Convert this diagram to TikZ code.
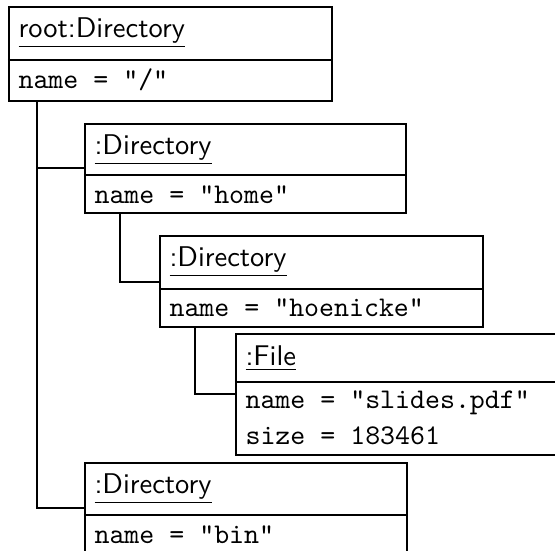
\documentclass[tikz,border=0pt]{standalone}
\usetikzlibrary{calc}
\def\u{0.3509pt}
\tikzset{
  objbox/.style={draw, line width=0.55pt, inner sep=0pt, anchor=north west},
  objhead/.style={inner sep=0pt, anchor=north west},
  objname/.style={anchor=base west, inner sep=0pt, font=\sffamily},
  objattr/.style={anchor=base west, inner sep=0pt, font=\ttfamily},
  divider/.style={draw, line width=0.55pt},
  link/.style={draw, line width=0.5pt},
}
\begin{document}
\begin{tikzpicture}[x=\u, y=-\u]
\useasboundingbox (0,0) rectangle (555,551);
\clip (0,0) rectangle (555,551);

% root directory
\node[objbox, minimum width={323*\u}, minimum height={94*\u}] (root) at (8,6) {};
\node[objhead, minimum width={323*\u}, minimum height={53*\u}] (rootH) at (root.north west) {};
\draw[divider] (rootH.south west) -- (rootH.south east);
\node[objname] (rootT) at ($(rootH.north west)+(10,31)$) {\underline{root:Directory}};
\node[objattr] (rootV) at ($(rootH.south west)+(10,28)$) {name = "/"};

% home
\node[objbox, minimum width={321*\u}, minimum height={89*\u}] (home) at (84,123) {};
\node[objhead, minimum width={321*\u}, minimum height={51*\u}] (homeH) at (home.north west) {};
\draw[divider] (homeH.south west) -- (homeH.south east);
\node[objname] (homeT) at ($(homeH.north west)+(10,31)$) {\underline{:Directory}};
\node[objattr] (homeV) at ($(homeH.south west)+(10,28)$) {name = "home"};

% hoenicke
\node[objbox, minimum width={323*\u}, minimum height={91*\u}] (hoen) at (159,235) {};
\node[objhead, minimum width={323*\u}, minimum height={53*\u}] (hoenH) at (hoen.north west) {};
\draw[divider] (hoenH.south west) -- (hoenH.south east);
\node[objname] (hoenT) at ($(hoenH.north west)+(10,31)$) {\underline{:Directory}};
\node[objattr] (hoenV) at ($(hoenH.south west)+(10,27)$) {name = "hoenicke"};

% slides file
\node[objbox, minimum width={340*\u}, minimum height={121*\u}] (file) at (235,333) {};
\node[objhead, minimum width={340*\u}, minimum height={48*\u}] (fileH) at (file.north west) {};
\draw[divider] (fileH.south west) -- (fileH.south east);
\node[objname] (fileT) at ($(fileH.north west)+(10,32)$) {\underline{:File}};
\node[objattr] (fileV) at ($(fileH.south west)+(10,26)$) {name = "slides.pdf"};
\node[objattr] (fileS) at ($(fileH.south west)+(10,62)$) {size = 183461};

% bin
\node[objbox, minimum width={322*\u}, minimum height={112*\u}] (bin) at (84,462) {};
\node[objhead, minimum width={322*\u}, minimum height={52*\u}] (binH) at (bin.north west) {};
\draw[divider] (binH.south west) -- (binH.south east);
\node[objname] (binT) at ($(binH.north west)+(10,31)$) {\underline{:Directory}};
\node[objattr] (binV) at ($(binH.south west)+(10,28)$) {name = "bin"};

% containment links
\coordinate (r0) at ($(root.south west)+(29,0)$);
\coordinate (h0) at ($(home.south west)+(36,0)$);
\coordinate (o0) at ($(hoen.south west)+(36,0)$);
\draw[link] (r0) |- ($(homeH.south west)+(0,-7)$);
\draw[link] (r0) |- ($(binH.south west)+(0,-7)$);
\draw[link] (h0) |- ($(hoenH.south west)+(0,-7)$);
\draw[link] (o0) |- ($(fileH.south west)+(0,12)$);
\end{tikzpicture}
\end{document}
